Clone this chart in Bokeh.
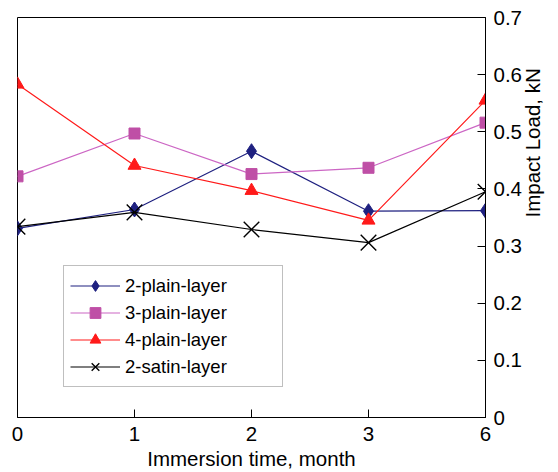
import math
from bokeh.plotting import figure
from bokeh.models import (ColumnDataSource, Legend, LegendItem, FixedTicker,
                          NumeralTickFormatter, Range1d)
from bokeh.embed import file_html
from bokeh.resources import INLINE

# ---- data ----
months = ["0", "1", "2", "3", "6"]
plain2 = [0.331, 0.364, 0.466, 0.361, 0.362]
plain3 = [0.422, 0.497, 0.426, 0.437, 0.516]
plain4 = [0.583, 0.441, 0.397, 0.345, 0.555]
satin2 = [0.334, 0.359, 0.329, 0.306, 0.395]
series_names = ["2-plain-layer", "3-plain-layer", "4-plain-layer", "2-satin-layer"]
y_ticks = [0, 0.1, 0.2, 0.3, 0.4, 0.5, 0.6, 0.7]

FONT = "Liberation Sans"
xs = list(range(len(months)))

p = figure(width=558, height=472, output_backend="svg", toolbar_location=None,
           x_range=Range1d(0, len(months) - 1), y_range=Range1d(0, 0.7),
           y_axis_location="right", min_border_left=17, min_border_top=17,
           min_border_right=0, min_border_bottom=0)
p.background_fill_color = "white"
p.border_fill_color = "white"
p.outline_line_color = "black"
p.outline_line_width = 1
p.xgrid.visible = False
p.ygrid.visible = False

xa = p.xaxis[0]
xa.ticker = FixedTicker(ticks=xs)
xa.major_label_overrides = {i: m for i, m in enumerate(months)}
xa.axis_label = "Immersion time, month"
ya = p.yaxis[0]
ya.ticker = FixedTicker(ticks=y_ticks)
ya.formatter = NumeralTickFormatter(format="0.[0]")
ya.axis_label = "Impact Load, kN"
try:
    ya.axis_label_orientation = math.pi / 2
except Exception:
    pass

for ax in (xa, ya):
    ax.major_tick_in = 8
    ax.major_tick_out = 0
    ax.minor_tick_in = 0
    ax.minor_tick_out = 0
    ax.axis_line_color = "black"
    ax.major_tick_line_color = "black"
    ax.major_label_text_font = FONT
    ax.major_label_text_font_size = "20.5px"
    ax.major_label_text_color = "black"
    ax.axis_label_text_font = FONT
    ax.axis_label_text_font_size = "20.5px"
    ax.axis_label_text_font_style = "normal"
    ax.axis_label_text_color = "black"
xa.major_label_standoff = 9
xa.axis_label_standoff = 3
ya.major_label_standoff = 8
ya.axis_label_standoff = 8

src = ColumnDataSource(dict(x=xs, p2=plain2, p3=plain3, p4=plain4, s2=satin2))

items = []
l1 = p.line("x", "p2", source=src, line_color="#1f2180", line_width=1.2)
m1 = p.scatter("x", "p2", source=src, marker="diamond", size=15,
               fill_color="#1f2180", line_color="#1f2180")
items.append(LegendItem(label=series_names[0], renderers=[l1, m1]))
l2 = p.line("x", "p3", source=src, line_color="#cc66c4", line_width=1.2)
m2 = p.scatter("x", "p3", source=src, marker="square", size=11,
               fill_color="#bf4fa6", line_color="#bf4fa6")
items.append(LegendItem(label=series_names[1], renderers=[l2, m2]))
l3 = p.line("x", "p4", source=src, line_color="#ff1a1a", line_width=1.2)
m3 = p.scatter("x", "p4", source=src, marker="triangle", size=13,
               fill_color="#ff1a1a", line_color="#ff1a1a")
items.append(LegendItem(label=series_names[2], renderers=[l3, m3]))
l4 = p.line("x", "s2", source=src, line_color="black", line_width=1.2)
m4 = p.scatter("x", "s2", source=src, marker="x", size=22,
               line_color="black", line_width=1.4)
items.append(LegendItem(label=series_names[3], renderers=[l4, m4]))

legend = Legend(items=items, location=(46, 30))
legend.label_text_font = FONT
legend.label_text_font_size = "18.5px"
legend.label_text_color = "black"
legend.glyph_width = 50
legend.glyph_height = 27
legend.label_height = 20
legend.label_width = 151
legend.label_standoff = 5
legend.spacing = 0
legend.padding = 6
legend.margin = 0
legend.border_line_color = "#808080"
legend.border_line_width = 1
legend.background_fill_color = "white"
legend.background_fill_alpha = 1
p.add_layout(legend, "center")

open("out.html", "w").write(file_html(p, INLINE))
